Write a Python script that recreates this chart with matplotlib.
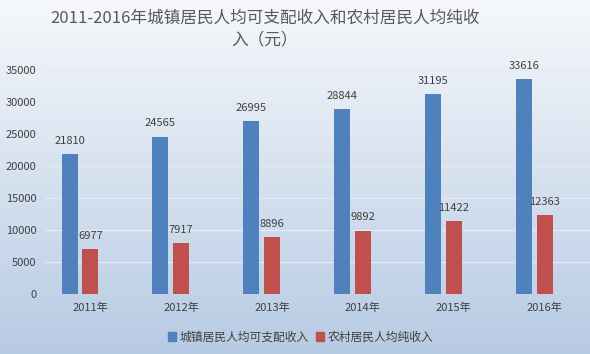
import numpy as np
import matplotlib

matplotlib.use("Agg")
import matplotlib.pyplot as plt
from matplotlib.patches import Patch

plt.rcParams["font.family"] = ["Noto Sans CJK SC", "DejaVu Sans"]

years = ["2011年", "2012年", "2013年", "2014年", "2015年", "2016年"]
urban = [21810, 24565, 26995, 28844, 31195, 33616]
rural = [6977, 7917, 8896, 9892, 11422, 12363]
series_names = ["城镇居民人均可支配收入", "农村居民人均纯收入"]
yticks = [0, 5000, 10000, 15000, 20000, 25000, 30000, 35000]

BLUE = "#4f81bd"
RED = "#c0504d"
TEXT = "#404040"


def draw_background(fig):
    bg = fig.add_axes([0, 0, 1, 1], zorder=-10)
    top = np.array([246, 248, 251]) / 255
    bottom = np.array([183, 203, 228]) / 255
    t = np.linspace(0, 1, 256)[:, None]
    grad = top * (1 - t) + bottom * t
    bg.imshow(grad[:, None, :], aspect="auto", extent=[0, 1, 0, 1])
    bg.axis("off")


def main():
    fig = plt.figure(figsize=(5.9, 3.54), dpi=100)
    draw_background(fig)

    ax = fig.add_axes([45 / 590, 1 - 294 / 354, 545 / 590, 224 / 354])
    ax.patch.set_alpha(0)

    x = np.arange(len(years))
    width = 0.176
    b1 = ax.bar(x - 0.23, urban, width, color=BLUE, zorder=3)
    b2 = ax.bar(x, rural, width, color=RED, zorder=3)

    for bars in (b1, b2):
        for rect in bars:
            h = rect.get_height()
            ax.annotate(f"{h:.0f}", (rect.get_x() + rect.get_width() / 2, h),
                        xytext=(0, 6), textcoords="offset points",
                        ha="center", va="bottom", fontsize=8, color=TEXT)

    ax.set_xlim(-0.5, len(years) - 0.5)
    ax.set_ylim(0, 35000)
    ax.set_yticks(yticks)
    ax.set_xticks(x)
    ax.set_xticklabels(years)
    ax.tick_params(axis="both", length=0, labelsize=8, colors=TEXT)
    ax.tick_params(axis="y", pad=6)
    ax.tick_params(axis="x", pad=6)
    ax.yaxis.grid(True, color="#e4eaf2", linewidth=1, zorder=0)
    ax.set_axisbelow(True)
    for s in ax.spines.values():
        s.set_visible(False)

    fig.text(0.449, 1 - 29 / 354, "2011-2016年城镇居民人均可支配收入和农村居民人均纯收\n入（元）",
             ha="center", va="center", fontsize=12, color="#595959", linespacing=1.4)

    handles = [Patch(color=BLUE), Patch(color=RED)]
    fig.legend(handles, series_names, loc="center", bbox_to_anchor=(0.51, 1 - 337 / 354),
               ncol=2, frameon=False, fontsize=8.5, handlelength=0.7, handleheight=0.7,
               handletextpad=0.3, columnspacing=0.6, labelcolor=TEXT)

    fig.savefig("out.png", dpi=100)
    plt.close(fig)


if __name__ == "__main__":
    main()
